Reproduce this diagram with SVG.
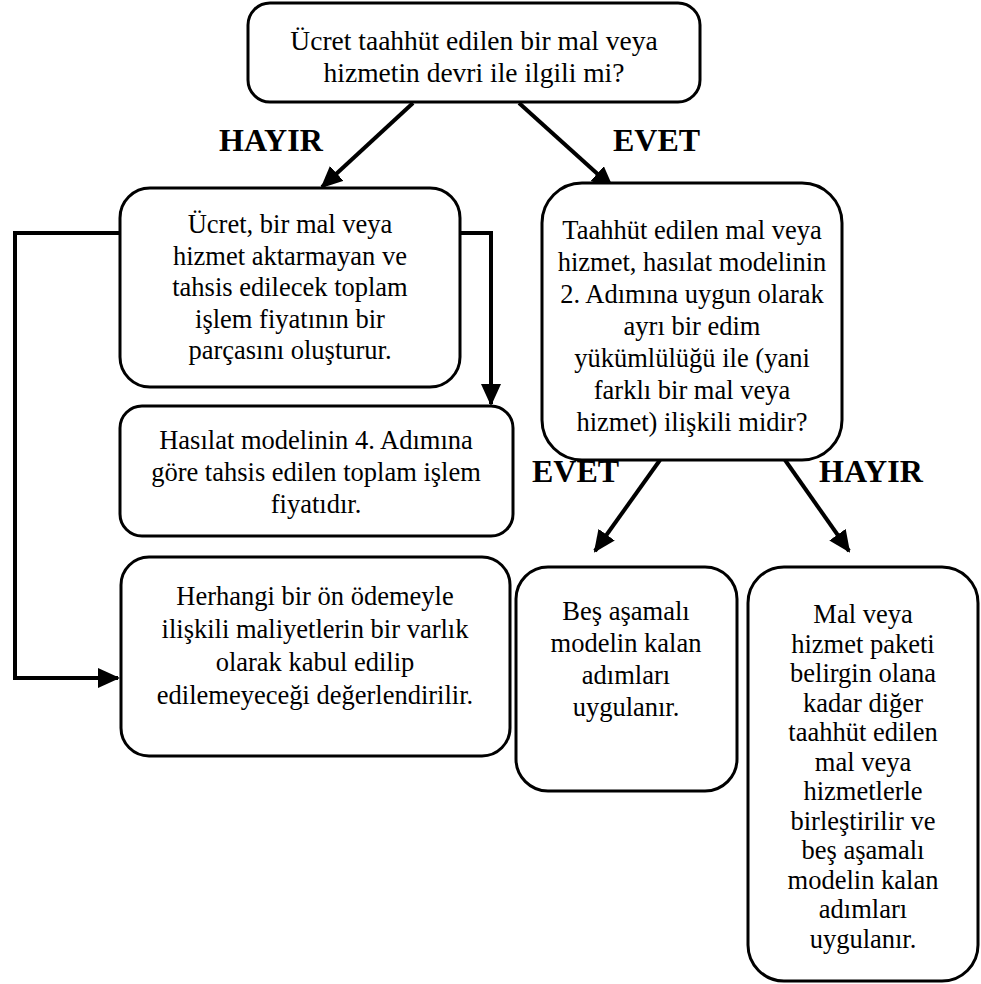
<svg xmlns="http://www.w3.org/2000/svg" width="981" height="984" viewBox="0 0 981 984">
  <defs>
    <marker id="arrow" markerUnits="userSpaceOnUse" markerWidth="22" markerHeight="20" viewBox="0 0 22 20" refX="20" refY="10" orient="auto">
      <path d="M0,0 L22,10 L0,20 Z" fill="#000"/>
    </marker>
    <style>
      .box { fill: #fff; stroke: #000; stroke-width: 3; }
      .txt { font-family: 'Liberation Serif', 'DejaVu Serif', serif; font-size: 26.5px; fill: #000; text-anchor: middle; }
      .big { font-size: 27.5px; }
      .lbl { font-family: 'Liberation Serif', 'DejaVu Serif', serif; font-size: 32px; font-weight: bold; fill: #000; }
      .conn { fill: none; stroke: #000; stroke-width: 4; marker-end: url(#arrow); }
    </style>
  </defs>

  <rect width="981" height="984" fill="#fff"/>

  <!-- connectors and branch labels -->
  <g id="connectors">
    <line class="conn" x1="413" y1="103" x2="322" y2="187"/>
    <line class="conn" x1="519" y1="103" x2="612" y2="187"/>
    <polyline class="conn" points="120,233 15,233 15,678 118,678"/>
    <polyline class="conn" points="460,233 491,233 491,404"/>
    <line class="conn" x1="660" y1="460" x2="595" y2="551"/>
    <line class="conn" x1="785" y1="460" x2="849" y2="551"/>
    <text class="lbl" x="219" y="151">HAYIR</text>
    <text class="lbl" x="613" y="151">EVET</text>
    <text class="lbl" x="532" y="482">EVET</text>
    <text class="lbl" x="819" y="482">HAYIR</text>
  </g>

  <g id="start">
    <rect class="box" x="248" y="3" width="452" height="99" rx="22"/>
    <text class="txt big" x="474" y="50">Ücret taahhüt edilen bir mal veya</text>
    <text class="txt big" x="474" y="82">hizmetin devri ile ilgili mi?</text>
  </g>

  <g id="no-transfer">
    <rect class="box" x="120" y="188" width="340" height="199" rx="30"/>
    <text class="txt" x="290" y="233">Ücret, bir mal veya</text>
    <text class="txt" x="290" y="264.5">hizmet aktarmayan ve</text>
    <text class="txt" x="290" y="296">tahsis edilecek toplam</text>
    <text class="txt" x="290" y="327.5">işlem fiyatının bir</text>
    <text class="txt" x="290" y="359">parçasını oluşturur.</text>
  </g>

  <g id="allocated-price">
    <rect class="box" x="120" y="406" width="393" height="130" rx="22"/>
    <text class="txt" x="316" y="449">Hasılat modelinin 4. Adımına</text>
    <text class="txt" x="316" y="481">göre tahsis edilen toplam işlem</text>
    <text class="txt" x="316" y="513">fiyatıdır.</text>
  </g>

  <g id="prepayment-costs">
    <rect class="box" x="121" y="557" width="389" height="199" rx="28"/>
    <text class="txt" x="315" y="605">Herhangi bir ön ödemeyle</text>
    <text class="txt" x="315" y="638">ilişkili maliyetlerin bir varlık</text>
    <text class="txt" x="315" y="671">olarak kabul edilip</text>
    <text class="txt" x="315" y="704">edilemeyeceği değerlendirilir.</text>
  </g>

  <g id="distinct-check">
    <rect class="box" x="542" y="183" width="300" height="277" rx="40"/>
    <text class="txt" x="692" y="239">Taahhüt edilen mal veya</text>
    <text class="txt" x="692" y="271">hizmet, hasılat modelinin</text>
    <text class="txt" x="692" y="303">2. Adımına uygun olarak</text>
    <text class="txt" x="692" y="335">ayrı bir edim</text>
    <text class="txt" x="692" y="367">yükümlülüğü ile (yani</text>
    <text class="txt" x="692" y="399">farklı bir mal veya</text>
    <text class="txt" x="692" y="431">hizmet) ilişkili midir?</text>
  </g>

  <g id="remaining-steps">
    <rect class="box" x="516" y="567" width="221" height="224" rx="32"/>
    <text class="txt" x="626" y="620">Beş aşamalı</text>
    <text class="txt" x="626" y="652">modelin kalan</text>
    <text class="txt" x="626" y="684">adımları</text>
    <text class="txt" x="626" y="716">uygulanır.</text>
  </g>

  <g id="combine-bundle">
    <rect class="box" x="748" y="567" width="230" height="414" rx="36"/>
    <text class="txt" x="863" y="623">Mal veya</text>
    <text class="txt" x="863" y="652.5">hizmet paketi</text>
    <text class="txt" x="863" y="682">belirgin olana</text>
    <text class="txt" x="863" y="711.5">kadar diğer</text>
    <text class="txt" x="863" y="741">taahhüt edilen</text>
    <text class="txt" x="863" y="770.5">mal veya</text>
    <text class="txt" x="863" y="800">hizmetlerle</text>
    <text class="txt" x="863" y="829.5">birleştirilir ve</text>
    <text class="txt" x="863" y="859">beş aşamalı</text>
    <text class="txt" x="863" y="888.5">modelin kalan</text>
    <text class="txt" x="863" y="918">adımları</text>
    <text class="txt" x="863" y="947.5">uygulanır.</text>
  </g>
</svg>
